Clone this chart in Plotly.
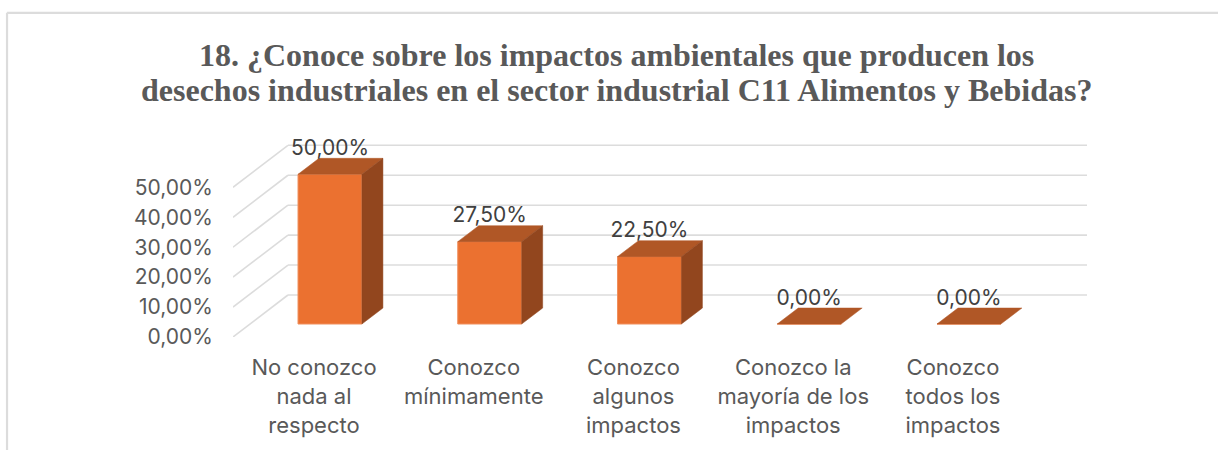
import plotly.graph_objects as go

categories = ["No conozco<br>nada al<br>respecto", "Conozco<br>mínimamente", "Conozco<br>algunos<br>impactos",
              "Conozco la<br>mayoría de los<br>impactos", "Conozco<br>todos los<br>impactos"]
values = [50.0, 27.5, 22.5, 0.0, 0.0]
value_labels = ["50,00%", "27,50%", "22,50%", "0,00%", "0,00%"]
axis_values = [0, 10, 20, 30, 40, 50]
axis_labels = ["0,00%", "10,00%", "20,00%", "30,00%", "40,00%", "50,00%"]
title_lines = ["18. ¿Conoce sobre los impactos ambientales que producen los",
               "desechos industriales en el sector industrial C11 Alimentos y Bebidas?"]

# pseudo-3D geometry, in axis units
BAR_W = 0.40
DX, DY = 0.1315, 5.34          # bar depth
WX, WY = 0.344, 14.03          # wall depth
FRONT = -4.34                  # value offset of the front of the floor
LABEL_SHIFT = 8.2
TICK_SHIFT = -0.10
X_RANGE = [-0.607, 4.739]
Y_RANGE = [-4.34, 64.8]

FONT = "Inter"
TXT = "#595959"
FACE, TOP, SIDE = "#EB7130", "#B05726", "#92461E"
GRID = "#DCDCDC"

fig = go.Figure()

shapes = []
for v in axis_values:
    y0 = v + FRONT
    y1 = y0 + WY
    x1 = X_RANGE[0] + WX
    shapes.append(dict(type="line", xref="x", yref="y", layer="below", x0=X_RANGE[0], y0=y0, x1=x1, y1=y1,
                       line=dict(color=GRID, width=1.6)))
    shapes.append(dict(type="line", xref="x", yref="y", layer="below", x0=x1, y0=y1, x1=X_RANGE[1], y1=y1,
                       line=dict(color=GRID, width=1.6)))
# chart frame: left and top edges only
shapes.append(dict(type="line", xref="paper", yref="paper", x0=-0.2646, x1=-0.2646, y0=-0.55, y1=1.566,
                   line=dict(color=GRID, width=2.2)))
shapes.append(dict(type="line", xref="paper", yref="paper", x0=-0.2646, x1=1.16, y0=1.566, y1=1.566,
                   line=dict(color=GRID, width=2.2)))

xs = list(range(len(values)))
fig.add_trace(go.Bar(x=xs, y=values, width=BAR_W, marker=dict(color=FACE, line=dict(color="#F08F5C", width=1)),
                     hoverinfo="skip", showlegend=False))
for x, v in zip(xs, values):
    l, r = x - BAR_W / 2, x + BAR_W / 2
    fig.add_trace(go.Scatter(x=[l, r, r + DX, l + DX, l], y=[v, v, v + DY, v + DY, v], mode="lines",
                             fill="toself", fillcolor=TOP, line=dict(color=TOP, width=0.5),
                             hoverinfo="skip", showlegend=False))
    if v > 0:
        fig.add_trace(go.Scatter(x=[r, r + DX, r + DX, r, r], y=[0, DY, v + DY, v, 0], mode="lines",
                                 fill="toself", fillcolor=SIDE, line=dict(color=SIDE, width=0.5),
                                 hoverinfo="skip", showlegend=False))
fig.add_trace(go.Scatter(x=xs, y=[v + LABEL_SHIFT for v in values], mode="text", text=value_labels,
                         textposition="middle center", textfont=dict(family=FONT, size=21, color="#404040"),
                         hoverinfo="skip", showlegend=False))

annotations = [
    dict(text=line, xref="paper", yref="paper", x=(616 - 233) / 854, y=(337 - py) / 207, xanchor="center",
         yanchor="middle", showarrow=False,
         font=dict(family="Liberation Serif", size=32, color=TXT, weight="bold"))
    for line, py in zip(title_lines, [55, 90])
]

fig.update_layout(
    width=1218, height=450, autosize=False,
    margin=dict(l=233, r=131, t=130, b=113, pad=0),
    paper_bgcolor="white", plot_bgcolor="rgba(0,0,0,0)",
    annotations=annotations,
    xaxis=dict(range=X_RANGE, tickmode="array", tickvals=[x + TICK_SHIFT for x in xs], ticktext=categories,
               showgrid=False, zeroline=False, showline=False, ticks="outside", ticklen=11, tickcolor="rgba(0,0,0,0)",
               tickangle=0, tickfont=dict(family=FONT, size=22, color=TXT)),
    yaxis=dict(range=Y_RANGE, tickmode="array", tickvals=[v + FRONT for v in axis_values], ticktext=axis_labels,
               showgrid=False, zeroline=False, showline=False, ticks="outside", ticklen=15, tickcolor="rgba(0,0,0,0)",
               tickfont=dict(family=FONT, size=21, color=TXT)),
    shapes=shapes,
)
fig.write_html("out.html", config=dict(displayModeBar=False),
               post_script="document.body.style.margin='0';document.body.style.overflow='hidden';")
